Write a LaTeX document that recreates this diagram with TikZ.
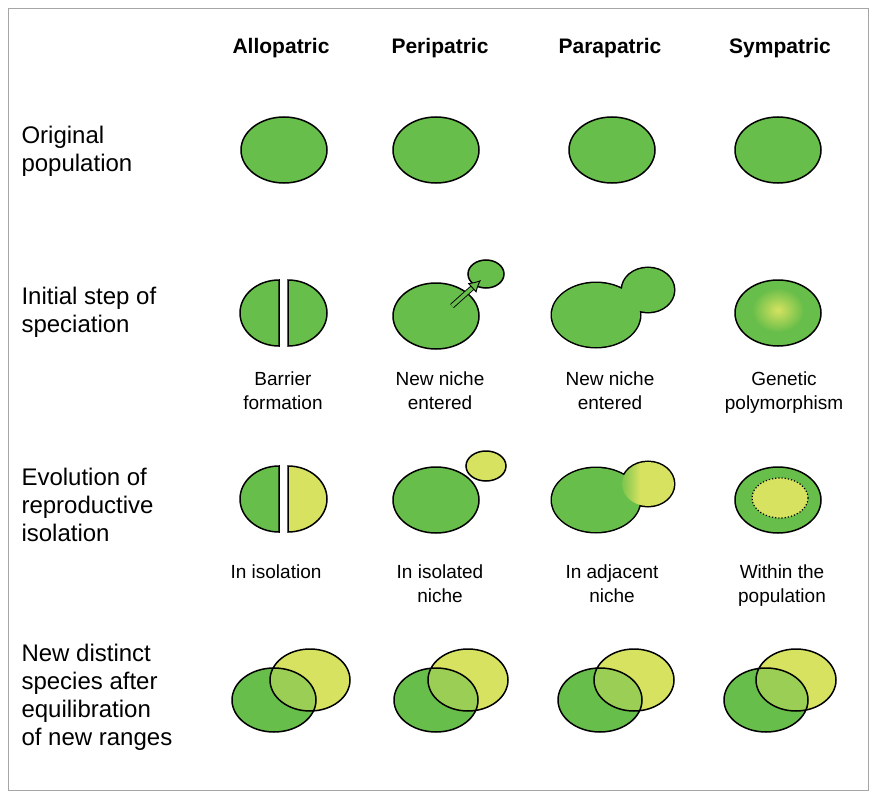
\documentclass[tikz,border=0pt]{standalone}
\usepackage{fontspec}
\setmainfont{Liberation Sans}
\usetikzlibrary{arrows.meta,shapes.geometric,positioning}
\definecolor{pgreen}{RGB}{104,190,74}
\definecolor{pyellow}{RGB}{214,226,96}
\tikzset{
  pop/.style={ellipse, draw, line width=1.5pt, fill=pgreen, minimum width=86pt, minimum height=66pt, inner sep=0pt},
  half/.style={draw, line width=1.5pt, fill=#1},
  rowlabel/.style={anchor=west, align=left, font=\fontsize{24}{28}\selectfont},
  colhead/.style={font=\bfseries\fontsize{21}{24}\selectfont},
  sublabel/.style={anchor=north, align=center, font=\fontsize{19}{24}\selectfont}
}
\begin{document}
\begin{tikzpicture}[x=1pt,y=-1pt]
		\useasboundingbox (0,0) rectangle (879,800);
		\draw[gray!70, line width=0.8pt] (8,8) rectangle (868,790);
		
		% column heads
		\node[colhead] (hallo) at (281,48) {Allopatric};
		\node[colhead] (hperi) at (440,48) {Peripatric};
		\node[colhead] (hpara) at (610,48) {Parapatric};
		\node[colhead] (hsym)  at (780,48) {Sympatric};
		
		% row labels
		\node[rowlabel] (rorig) at (18,151) {Original\\population};
		\node[rowlabel] (rinit) at (18,312) {Initial step of\\speciation};
		\node[rowlabel] (revol) at (18,505) {Evolution of\\reproductive\\isolation};
		\node[rowlabel] (rnew)  at (18,697) {New distinct\\species after\\equilibration\\of new ranges};
		
		% original population
		\node[pop] (oallo) at (284,150) {};
		\node[pop] (operi) at (436,150) {};
		\node[pop] (opara) at (612,150) {};
		\node[pop] (osym)  at (778,150) {};
		
		% initial step
		\draw[half=pgreen] (279,280) arc[start angle=90, end angle=270, x radius=39pt, y radius=33pt] -- cycle;
		\draw[half=pgreen] (288,280) arc[start angle=90, end angle=-90, x radius=39pt, y radius=33pt] -- cycle;
		\node[pop, minimum width=36pt, minimum height=28pt] (iperis) at (486,274) {};
		\node[pop] (iperi) at (436,316) {};
		\draw[line width=0.9pt, double=pgreen, double distance=3.5pt, -{Latex[length=12pt,width=13pt,fill=pgreen]}] (452,306) -- (481,280);
		\fill[draw, line width=3pt] (648,290) ellipse[x radius=26pt, y radius=22pt] (596,315) ellipse[x radius=44pt, y radius=32pt];
		\fill[pgreen] (648,290) ellipse[x radius=26pt, y radius=22pt] (596,315) ellipse[x radius=44pt, y radius=32pt];
		\node[pop] (isym) at (778,313) {};
		\shade[inner color=pyellow, outer color=pgreen] (778,310) ellipse[x radius=26pt, y radius=22pt];
		\node[sublabel] (lallo) at (283,368) {Barrier\\formation};
		\node[sublabel] (lperi) at (440,368) {New niche\\entered};
		\node[sublabel] (lpara) at (610,368) {New niche\\entered};
		\node[sublabel] (lsym)  at (784,368) {Genetic\\polymorphism};
		
		% reproductive isolation
		\draw[half=pgreen] (279,466) arc[start angle=90, end angle=270, x radius=39pt, y radius=33pt] -- cycle;
		\draw[half=pyellow] (288,466) arc[start angle=90, end angle=-90, x radius=39pt, y radius=33pt] -- cycle;
		\node[pop] (eperi) at (436,500) {};
		\node[pop, fill=pyellow, minimum width=40pt, minimum height=30pt] (eperis) at (486,466) {};
		\fill[draw, line width=3pt] (648,484) ellipse[x radius=26pt, y radius=22pt] (596,500) ellipse[x radius=44pt, y radius=32pt];
		\fill[pgreen] (596,500) ellipse[x radius=44pt, y radius=32pt];
		\begin{scope}
			\clip (648,484) ellipse[x radius=26pt, y radius=22pt];
			\shade[left color=pgreen, right color=pyellow] (618,458) rectangle (640,510);
			\fill[pyellow] (640,458) rectangle (676,510);
		\end{scope}
		\node[pop] (esym) at (778,500) {};
		\node[ellipse, draw, dotted, line width=1.2pt, fill=pyellow, minimum width=56pt, minimum height=40pt] (esyms) at (780,498) {};
		\node[sublabel] (iallo) at (276,561) {In isolation};
		\node[sublabel] (iperi2) at (440,561) {In isolated\\niche};
		\node[sublabel] (ipara) at (612,561) {In adjacent\\niche};
		\node[sublabel] (isym2) at (782,561) {Within the\\population};
		
		% new species
		\foreach \g/\y in {274/310,436/468,600/634,766/796}{
			\fill[pyellow] (\y,680) ellipse[x radius=40pt, y radius=31pt];
			\fill[pgreen] (\g,700) ellipse[x radius=42pt, y radius=32pt];
			\begin{scope}
				\clip (\g,700) ellipse[x radius=42pt, y radius=32pt];
				\fill[pgreen!55!pyellow] (\y,680) ellipse[x radius=40pt, y radius=31pt];
			\end{scope}
			\draw[line width=1.5pt] (\g,700) ellipse[x radius=42pt, y radius=32pt] (\y,680) ellipse[x radius=40pt, y radius=31pt];
		}
\end{tikzpicture}
\end{document}
